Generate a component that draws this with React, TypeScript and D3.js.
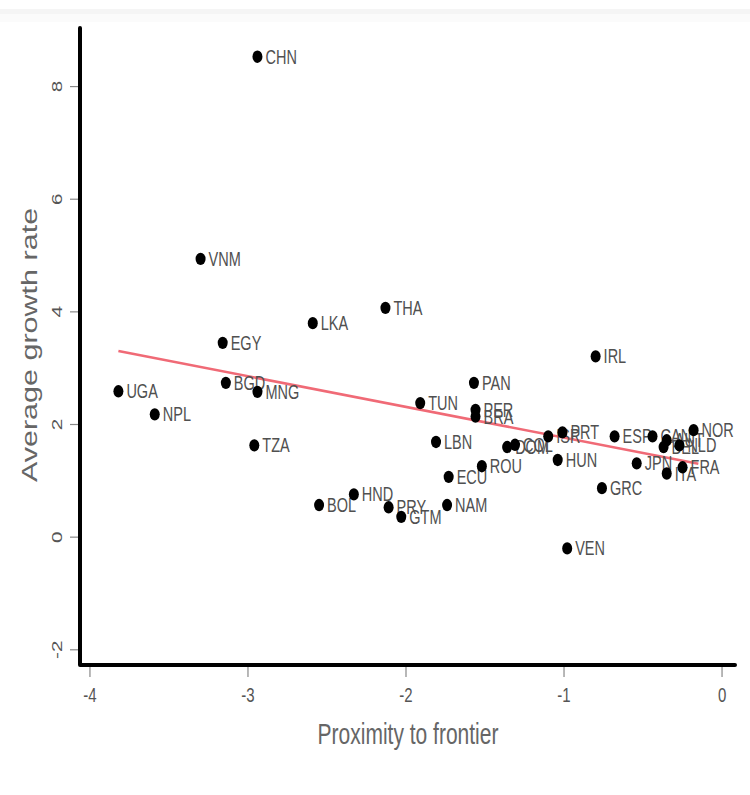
import React from "react";
import * as d3 from "d3";

const countries = ["CHN","VNM","LKA","THA","EGY","IRL","UGA","BGD","MNG","NPL","TZA","PAN","TUN","PER","BRA","LBN","ECU","ROU","NAM","BOL","HND","PRY","GTM","DOM","COL","ISR","PRT","HUN","ESP","CAN","AUT","BEL","NLD","NOR","JPN","ITA","FRA","GRC","VEN"];
const proximity = [-2.94,-3.30,-2.59,-2.13,-3.16,-0.80,-3.82,-3.14,-2.94,-3.59,-2.96,-1.57,-1.91,-1.56,-1.56,-1.81,-1.73,-1.52,-1.74,-2.55,-2.33,-2.11,-2.03,-1.36,-1.31,-1.10,-1.01,-1.04,-0.68,-0.44,-0.35,-0.37,-0.27,-0.18,-0.54,-0.35,-0.25,-0.76,-0.98];
const growth = [8.53,4.94,3.80,4.07,3.45,3.21,2.59,2.74,2.58,2.18,1.63,2.74,2.38,2.26,2.14,1.69,1.07,1.26,0.57,0.57,0.76,0.53,0.36,1.60,1.64,1.79,1.86,1.37,1.79,1.79,1.72,1.60,1.63,1.90,1.31,1.13,1.24,0.87,-0.20];
const xTicks = [-4,-3,-2,-1,0];
const yTicks = [-2,0,2,4,6,8];
const fitX = [-3.82,-0.15];
const fitIntercept = 1.22;
const fitSlope = -0.546;

export default function App() {
  const x = d3.scaleLinear().domain([-4.063, 0.082]).range([80, 735]);
  const y = d3.scaleLinear().domain([-2.27, 9.04]).range([665, 28]);
  const line = d3.line<number>().x(d => x(d)).y(d => y(fitIntercept + fitSlope * d));
  const font = "'Liberation Sans', Arial, sans-serif";
  const sy = 1.38;
  return (
    <svg width={750} height={795} style={{ position: "absolute", left: 0, top: 0, background: "#fff" }} fontFamily={font}>
      <rect x={0} y={9} width={750} height={5} fill="#f5f5f5" />
      <rect x={0} y={14} width={750} height={8} fill="#fbfbfb" />
      <path d={line(fitX) || ""} stroke="#f06a76" strokeWidth={2.6} fill="none" />
      {countries.map((c, i) => (
        <g key={c}>
          <ellipse cx={x(proximity[i])} cy={y(growth[i])} rx={5} ry={6.2} fill="#000" />
          <text transform={`translate(${x(proximity[i]) + 8},${y(growth[i]) + 7}) scale(1,${sy})`} fontSize={14.5} fill="#505050">{c}</text>
        </g>
      ))}
      {/* axes */}
      <path d={`M${x.range()[0]},${y.range()[1]}V${y.range()[0]}H${x.range()[1]}`} stroke="#000" strokeWidth={4} fill="none" strokeLinejoin="round" strokeLinecap="round" />
      {yTicks.map(t => (
        <g key={"y" + t}>
          <line x1={70} x2={78} y1={y(t)} y2={y(t)} stroke="#888" strokeWidth={1.2} />
          <text transform={`translate(62,${y(t)}) scale(1,${sy}) rotate(-90)`} textAnchor="middle" fontSize={15} fill="#555">{t}</text>
        </g>
      ))}
      {xTicks.map(t => (
        <g key={"x" + t}>
          <line x1={x(t)} x2={x(t)} y1={667} y2={677} stroke="#888" strokeWidth={1.2} />
          <text transform={`translate(${x(t)},702) scale(1,${sy})`} textAnchor="middle" fontSize={15} fill="#555">{t}</text>
        </g>
      ))}
      <text transform={`translate(37,345) scale(1,1.42) rotate(-90)`} textAnchor="middle" fontSize={21.5} fill="#666">Average growth rate</text>
      <text transform={`translate(408,744) scale(1,1.4)`} textAnchor="middle" fontSize={21} fill="#666">Proximity to frontier</text>
    </svg>
  );
}
